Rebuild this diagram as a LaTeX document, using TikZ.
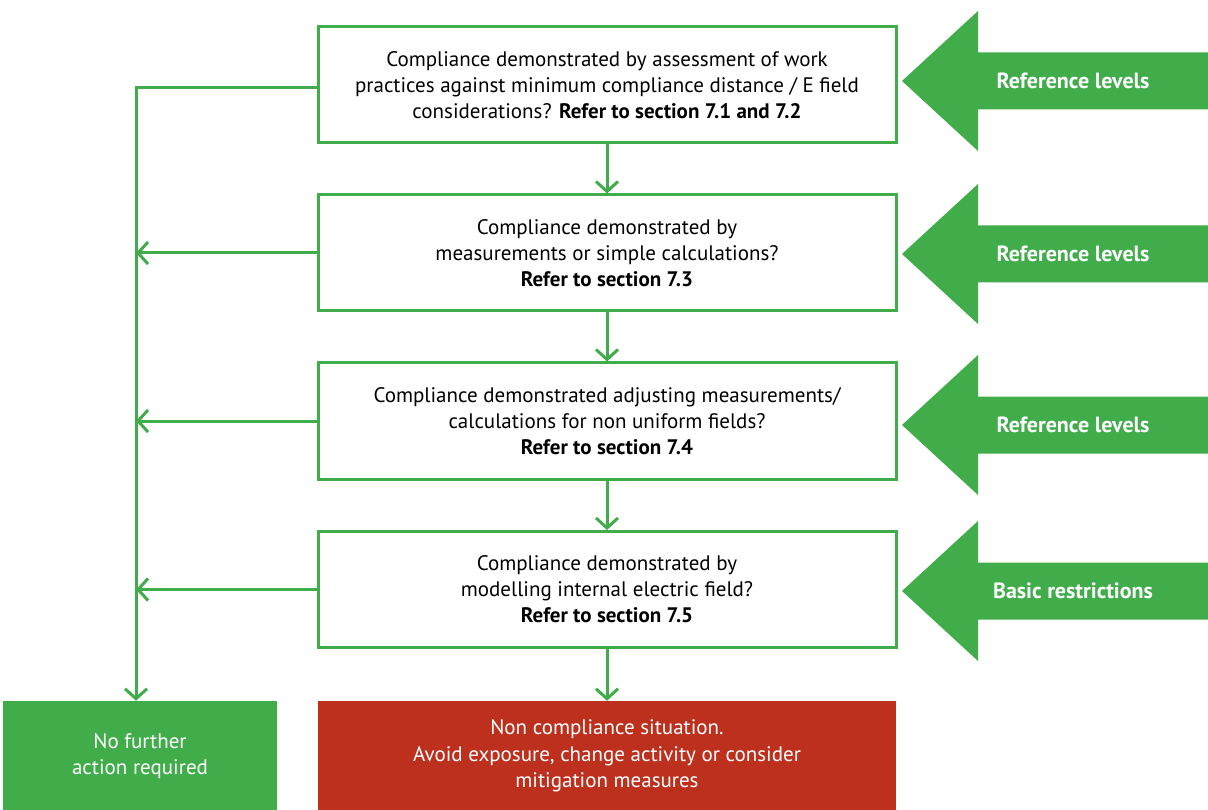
\documentclass[tikz,border=0pt]{standalone}
\usepackage{fontspec}
\setmainfont{PT Sans}
\usetikzlibrary{arrows.meta}
\definecolor{fgreen}{RGB}{64,173,74}
\definecolor{fred}{RGB}{190,48,30}
\tikzset{
  qbox/.style={draw=fgreen, line width=3pt, fill=white, minimum width=578pt, minimum height=116pt, align=center, inner sep=0pt, font=\fontsize{21}{26}\selectfont},
  endbox/.style={fill=#1, minimum height=110pt, align=center, inner sep=0pt, text=white, font=\fontsize{21}{26.5}\selectfont},
  conn/.style={draw=fgreen, line width=3pt, -{Straight Barb[length=10pt,width=22pt,line width=3pt]}},
  bigarrow/.style={fill=fgreen},
  arrowlabel/.style={text=white, font=\fontsize{22}{24}\selectfont\bfseries}
}
\begin{document}
\begin{tikzpicture}[x=1pt,y=-1pt]
\useasboundingbox (0,0) rectangle (1208,810);
\node[qbox] (b1) at (607,85) {Compliance demonstrated by assessment of work\\practices against minimum compliance distance / E field\\considerations? \textbf{Refer to section 7.1 and 7.2}};
\node[qbox] (b2) at (607,253) {Compliance demonstrated by\\measurements or simple calculations?\\\textbf{Refer to section 7.3}};
\node[qbox] (b3) at (607,421) {Compliance demonstrated adjusting measurements/\\calculations for non uniform fields?\\\textbf{Refer to section 7.4}};
\node[qbox] (b4) at (607,589.5) {Compliance demonstrated by\\modelling internal electric field?\\\textbf{Refer to section 7.5}};
\node[endbox=fgreen, minimum width=274pt] (ok) at (140,756) {No further\\action required};
\node[endbox=fred, minimum width=578pt] (nc) at (607,756) {Non compliance situation.\\Avoid exposure, change activity or consider\\mitigation measures};
\coordinate (lane) at (136,0);
\draw[conn] (b1.south) -- (b2.north);
\draw[conn] (b2.south) -- (b3.north);
\draw[conn] (b3.south) -- (b4.north);
\draw[conn] (b4.south) -- (nc.north);
\draw[conn] ([yshift=-3pt]b1.west) -| (ok.north -| lane);
\draw[conn] (b2.west) -- (b2.west -| lane);
\draw[conn] (b3.west) -- (b3.west -| lane);
\draw[conn] (b4.west) -- (b4.west -| lane);
\foreach \y/\t [count=\i] in {81/Reference levels,254/Reference levels,425/Reference levels,591/Basic restrictions}{
  \fill[bigarrow] (902,\y) -- (978,\y-70) -- (978,\y-28.5) -- (1208,\y-28.5) -- (1208,\y+28.5) -- (978,\y+28.5) -- (978,\y+70) -- cycle;
  \node[arrowlabel] (lab\i) at (1073,\y) {\t};
}
\end{tikzpicture}
\end{document}
